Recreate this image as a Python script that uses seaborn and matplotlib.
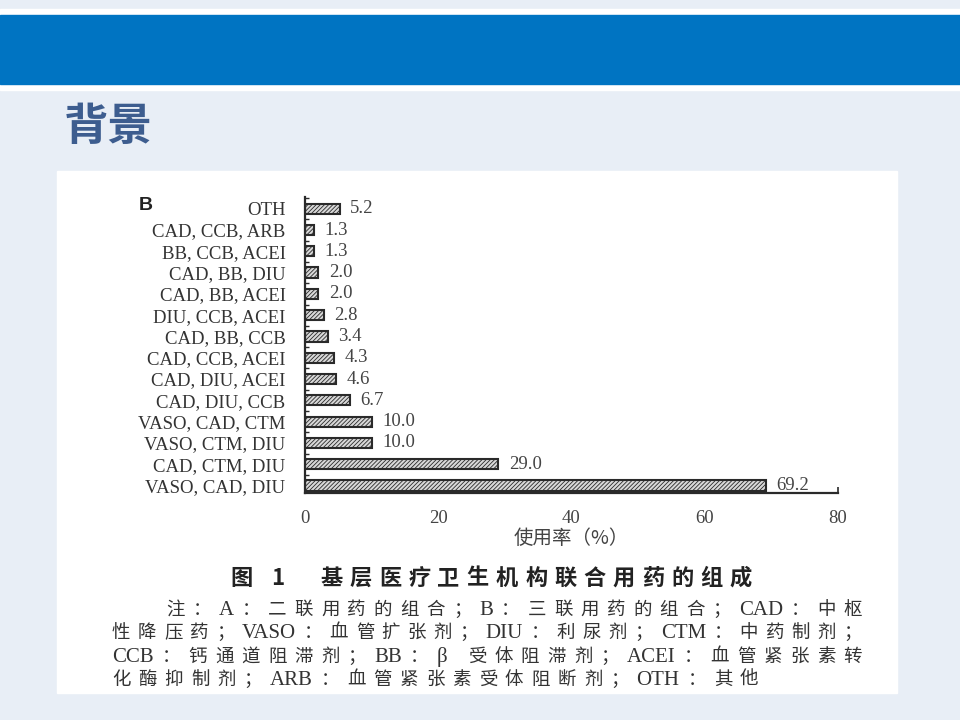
import re
import matplotlib
matplotlib.use("Agg")
import matplotlib.pyplot as plt
from matplotlib.patches import Rectangle
from matplotlib.ticker import MultipleLocator
import pandas as pd
import seaborn as sns

combos = ["OTH", "CAD, CCB, ARB", "BB, CCB, ACEI", "CAD, BB, DIU", "CAD, BB, ACEI",
          "DIU, CCB, ACEI", "CAD, BB, CCB", "CAD, CCB, ACEI", "CAD, DIU, ACEI",
          "CAD, DIU, CCB", "VASO, CAD, CTM", "VASO, CTM, DIU", "CAD, CTM, DIU",
          "VASO, CAD, DIU"]
rates = [5.2, 1.3, 1.3, 2.0, 2.0, 2.8, 3.4, 4.3, 4.6, 6.7, 10.0, 10.0, 29.0, 69.2]
xticks = [0, 20, 40, 60, 80]

slide_title = "背景"
panel_letter = "B"
xlabel = "使用率（%）"
caption = "图 1　基层医疗卫生机构联合用药的组成"
notes = ["注：A：二联用药的组合；B：三联用药的组合；CAD：中枢",
         "性降压药；VASO：血管扩张剂；DIU：利尿剂；CTM：中药制剂；",
         "CCB：钙通道阻滞剂；BB：β 受体阻滞剂；ACEI：血管紧张素转",
         "化酶抑制剂；ARB：血管紧张素受体阻断剂；OTH：其他"]

df = pd.DataFrame({"combo": combos, "rate": rates})

sns.set_style("ticks")
plt.rcParams["font.family"] = ["Noto Sans CJK SC", "DejaVu Sans"]
plt.rcParams["hatch.linewidth"] = 0.6
plt.rcParams["hatch.color"] = "#606060"

fig = plt.figure(figsize=(9.6, 7.2), dpi=100, facecolor="#e8eef6")
W, H = 960, 720


def box(x0, y0, x1, y1, color):
    fig.patches.append(Rectangle((x0 / W, 1 - y1 / H), (x1 - x0) / W, (y1 - y0) / H,
                                 transform=fig.transFigure, color=color, zorder=-5))


box(0, 9, 960, 90, "white")
box(0, 15, 960, 84, "#0074c2")
box(57, 171, 897, 693, "white")

fig.text(64 / W, 1 - 127 / H, slide_title, fontsize=32, fontweight="bold",
         color="#3d5d8f", va="center", ha="left")

ax = fig.add_axes([305 / W, 1 - 493 / H, 533 / W, 296 / H])
ax.set_facecolor("white")
sns.barplot(data=df, x="rate", y="combo", orient="h", ax=ax, width=0.48,
            color="#d8d8d8", edgecolor="#2a2a2a", linewidth=1.5, hatch="////////",
            saturation=1)
ax.set_xlim(0, 80)
ax.set_ylim(13.35, -0.55)
ax.set_xticks(xticks)
ax.yaxis.set_minor_locator(MultipleLocator(0.5))
for s in ["top", "right"]:
    ax.spines[s].set_visible(False)
for s in ["left", "bottom"]:
    ax.spines[s].set_color("#2a2a2a")
    ax.spines[s].set_linewidth(1.6)

ax.tick_params(axis="x", direction="in", length=4, width=1.2, color="#2a2a2a",
               pad=12, labelsize=13.5, labelcolor="#444444")
ax.tick_params(axis="y", which="both", direction="in", length=3, width=1.0,
               color="#2a2a2a", pad=14, labelsize=13.5, labelcolor="#333333")
for lab in ax.get_xticklabels() + ax.get_yticklabels():
    lab.set_family("Liberation Serif")

ax.set_ylabel("")
ax.set_xlabel(xlabel, fontsize=14, color="#444444", labelpad=1)

for i, v in enumerate(rates):
    ax.text(v + 1.6, i, f"{v:.1f}", va="center", ha="left", fontsize=13.5,
            family="Liberation Serif", color="#444444")

fig.text(139 / W, 1 - 205 / H, panel_letter, fontsize=14, fontweight="bold",
         family="Liberation Sans", color="#222222", va="center")

# caption text, spread over its line like the justified print
renderer = fig.canvas.get_renderer()


def spread(text, x0, y, size, latin_size=None, x1=None, gap=None, weight="normal",
           color="#333333"):
    tokens = re.findall(r"[A-Za-z0-9β]+|.", text)
    arts = []
    for t in tokens:
        latin = re.fullmatch(r"[A-Za-z0-9β]+", t) is not None
        arts.append(fig.text(0, 1 - (y + size * 0.42) / H, t,
                             fontsize=(latin_size or size) if latin else size,
                             fontweight=weight, color=color, va="baseline", ha="left",
                             family=["Liberation Serif"] if latin and latin_size
                             else ["Noto Sans CJK SC", "DejaVu Sans"]))
    widths = [a.get_window_extent(renderer).width for a in arts]
    if gap is None:
        gap = (x1 - x0 - sum(widths)) / (len(tokens) - 1)
    x = x0
    for a, w in zip(arts, widths):
        a.set_x(x / W)
        x += w + gap
    return gap


spread(caption, 230, 578, 16, x1=752, weight="bold", color="#222222")
g1 = spread(notes[0], 166, 609, 13.3, latin_size=15, x1=862)
g2 = spread(notes[1], 112, 632, 13.3, latin_size=15, x1=862)
g3 = spread(notes[2], 112, 656, 13.3, latin_size=15, x1=862)
spread(notes[3], 112, 679, 13.3, latin_size=15, gap=(g1 + g2 + g3) / 3)

fig.savefig("out.png", dpi=100, facecolor=fig.get_facecolor())
